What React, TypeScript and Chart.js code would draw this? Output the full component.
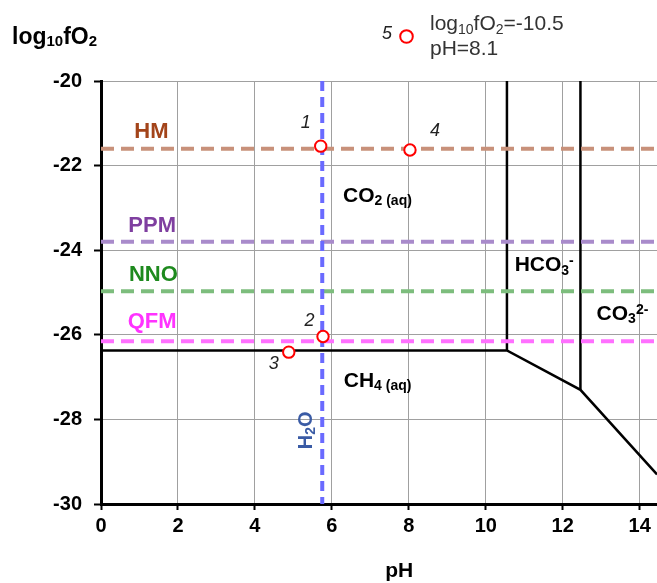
import React, { useEffect, useRef } from 'react';
import { Chart, registerables } from 'chart.js';

Chart.register(...registerables);

// ---- data ----
const phRange = [0, 14.45];
const bufferNames = ['HM', 'PPM', 'NNO', 'QFM'];
const bufferLogfO2 = [-21.6, -23.8, -24.97, -26.15];

const waterPH = [5.75, 5.75];
const waterLogfO2 = [-20, -30];

const ch4BoundaryPH = [0, 10.55, 12.46, 14.45];
const ch4BoundaryLogfO2 = [-26.37, -26.37, -27.3, -29.3];
const hco3BoundaryPH = [10.55, 10.55];
const hco3BoundaryLogfO2 = [-20, -26.37];
const co3BoundaryPH = [12.46, 12.46];
const co3BoundaryLogfO2 = [-20, -27.3];

const sampleIds = ['1', '2', '3', '4'];
const samplePH = [5.71, 5.77, 4.88, 8.03];
const sampleLogfO2 = [-21.54, -26.04, -26.41, -21.63];

const offChartId = '5';
const offChartLogfO2 = '-10.5';
const offChartPH = '8.1';

const xTickStep = 2;
const yRange = [-30, -20];
const yTickStep = 2;

// ---- styles ----
const FONT = '"Liberation Sans", Arial, sans-serif';
const bufferLineColors = ['#c8917a', '#a98bcb', '#7dbd7d', '#ff70ff'];
const bufferTextColors = ['#a3441a', '#7f3fa0', '#1e8a1e', '#ff33ff'];

type Part = [string, 'n' | 'sub' | 'sup'];

function drawRich(
  ctx: CanvasRenderingContext2D,
  parts: Part[],
  x: number,
  y: number,
  o: { size: number; subSize: number; weight?: string; style?: string; color: string; align: 'left' | 'center' | 'right'; subShift?: number; supShift?: number }
) {
  const fontFor = (k: string) => `${o.style || 'normal'} ${o.weight || 'normal'} ${k === 'n' ? o.size : o.subSize}px ${FONT}`;
  let total = 0;
  const widths = parts.map(([t, k]) => {
    ctx.font = fontFor(k);
    const w = ctx.measureText(t).width;
    total += w;
    return w;
  });
  let cx = o.align === 'left' ? x : o.align === 'center' ? x - total / 2 : x - total;
  ctx.fillStyle = o.color;
  ctx.textBaseline = 'alphabetic';
  ctx.textAlign = 'left';
  parts.forEach(([t, k], i) => {
    ctx.font = fontFor(k);
    const dy = k === 'sub' ? o.size * (o.subShift ?? 0.16) : k === 'sup' ? -o.size * (o.supShift ?? 0.28) : 0;
    ctx.fillText(t, cx, y + dy);
    cx += widths[i];
  });
}

const annotationPlugin = {
  id: 'annotations',
  afterDatasetsDraw(chart: any) {
    const ctx: CanvasRenderingContext2D = chart.ctx;
    const xs = chart.scales.x;
    const ys = chart.scales.y;
    const px = (v: number) => xs.getPixelForValue(v);
    const py = (v: number) => ys.getPixelForValue(v);
    const area = chart.chartArea;
    ctx.save();

    // x tick labels from the scale's own ticks
    xs.ticks.forEach((t: any) => {
      drawRich(ctx, [[String(t.value), 'n']], px(t.value), area.bottom + 28, {
        size: 20, subSize: 12, weight: 'bold', color: '#000', align: 'center',
      });
    });

    const bufferLabelPos = [
      [1.31, -21.34],
      [1.33, -23.57],
      [1.36, -24.73],
      [1.33, -25.85],
    ];
    bufferNames.forEach((n, i) => {
      drawRich(ctx, [[n, 'n']], px(bufferLabelPos[i][0]), py(bufferLabelPos[i][1]), {
        size: 22, subSize: 14, weight: 'bold', color: bufferTextColors[i], align: 'center',
      });
    });

    const bold = { size: 21, subSize: 14, weight: 'bold', color: '#000', align: 'left' as const };
    drawRich(ctx, [['CO', 'n'], ['2', 'sub'], [' (aq)', 'sub']], px(6.29), py(-22.86), bold);
    drawRich(ctx, [['CH', 'n'], ['4', 'sub'], [' (aq)', 'sub']], px(6.31), py(-27.23), bold);
    drawRich(ctx, [['HCO', 'n'], ['3', 'sub'], ['-', 'sup']], px(10.75), py(-24.5), bold);
    drawRich(ctx, [['CO', 'n'], ['3', 'sub'], ['2-', 'sup']], px(12.88), py(-25.65), bold);

    ctx.save();
    ctx.translate(px(5.3), py(-28.26));
    ctx.rotate(-Math.PI / 2);
    drawRich(ctx, [['H', 'n'], ['2', 'sub'], ['O', 'n']], 0, 7, {
      size: 20, subSize: 14, weight: 'bold', color: '#3a5ba5', align: 'center',
    });
    ctx.restore();

    const idPos = [
      [5.32, -21.12],
      [5.42, -25.8],
      [4.49, -26.8],
      [8.68, -21.3],
    ];
    sampleIds.forEach((id, i) => {
      drawRich(ctx, [[id, 'n']], px(idPos[i][0]), py(idPos[i][1]), {
        size: 18, subSize: 12, style: 'italic', color: '#222', align: 'center',
      });
    });

    const lx = area.left;
    const ty = area.top;
    drawRich(ctx, [[offChartId, 'n']], lx + 286, ty - 42, {
      size: 18, subSize: 12, style: 'italic', color: '#222', align: 'center',
    });
    ctx.beginPath();
    ctx.arc(lx + 305.5, ty - 44.5, 6.3, 0, Math.PI * 2);
    ctx.fillStyle = '#fff';
    ctx.fill();
    ctx.lineWidth = 2;
    ctx.strokeStyle = '#ff0000';
    ctx.stroke();
    const legendStyle = { size: 21, subSize: 14, color: '#333', align: 'left' as const, subShift: 0.18 };
    drawRich(ctx, [['log', 'n'], ['10', 'sub'], ['fO', 'n'], ['2', 'sub'], ['=' + offChartLogfO2, 'n']], lx + 329, ty - 51, legendStyle);
    drawRich(ctx, [['pH=' + offChartPH, 'n']], lx + 329, ty - 26, legendStyle);

    drawRich(ctx, [['log', 'n'], ['10', 'sub'], ['fO', 'n'], ['2', 'sub']], 12, 44, {
      size: 23, subSize: 15, weight: 'bold', color: '#000', align: 'left', subShift: 0.07,
    });
    drawRich(ctx, [['pH', 'n']], px(7.75), 577, {
      size: 21, subSize: 14, weight: 'bold', color: '#000', align: 'center',
    });

    ctx.restore();
  },
};

function pts(xsv: number[], ysv: number[]) {
  return xsv.map((x, i) => ({ x, y: ysv[i] }));
}

export default function App() {
  const ref = useRef<HTMLCanvasElement | null>(null);

  useEffect(() => {
    if (!ref.current) return;
    document.body.style.margin = '0';
    document.body.style.overflow = 'hidden';
    const datasets: any[] = [];

    datasets.push({
      label: 'samples',
      data: pts(samplePH, sampleLogfO2),
      showLine: false,
      pointRadius: 5.7,
      pointBorderWidth: 2,
      pointBorderColor: '#ff0000',
      pointBackgroundColor: '#ffffff',
    });
    datasets.push({
      label: 'H2O',
      data: pts(waterPH, waterLogfO2),
      showLine: true,
      borderColor: '#6a6aff',
      borderWidth: 4,
      borderDash: [10, 6],
      pointRadius: 0,
    });
    bufferNames.forEach((n, i) => {
      datasets.push({
        label: n,
        data: pts(phRange, [bufferLogfO2[i], bufferLogfO2[i]]),
        showLine: true,
        borderColor: bufferLineColors[i],
        borderWidth: 4,
        borderDash: [13, 7],
        pointRadius: 0,
      });
    });
    [
      pts(ch4BoundaryPH, ch4BoundaryLogfO2),
      pts(hco3BoundaryPH, hco3BoundaryLogfO2),
      pts(co3BoundaryPH, co3BoundaryLogfO2),
    ].forEach((d, i) => {
      datasets.push({
        label: 'boundary' + i,
        data: d,
        showLine: true,
        borderColor: '#000',
        borderWidth: 2.5,
        pointRadius: 0,
        tension: 0,
      });
    });

    const chart = new Chart(ref.current, {
      type: 'scatter',
      data: { datasets },
      options: {
        responsive: false,
        animation: false,
        devicePixelRatio: 1,
        layout: { autoPadding: false, padding: { top: 81, left: 0, right: 0, bottom: 0 } },
        plugins: { legend: { display: false }, tooltip: { enabled: false } },
        scales: {
          x: {
            type: 'linear',
            min: phRange[0],
            max: phRange[1],
            afterFit: (s: any) => { s.height = 79; s.paddingLeft = 0; s.paddingRight = 0; },
            border: { color: '#000', width: 3 },
            grid: { color: '#a0a0a0', lineWidth: 1, tickColor: '#000', tickLength: 6, tickWidth: 2 },
            ticks: {
              display: false,
              stepSize: xTickStep,
              includeBounds: false,
              maxRotation: 0,
            },
          },
          y: {
            type: 'linear',
            min: yRange[0],
            max: yRange[1],
            afterFit: (s: any) => { s.width = 101; s.paddingTop = 0; s.paddingBottom = 0; },
            border: { color: '#000', width: 3 },
            grid: { color: '#a0a0a0', lineWidth: 1, tickColor: '#000', tickLength: 7, tickWidth: 2 },
            ticks: {
              stepSize: yTickStep,
              padding: 12,
              color: '#000',
              font: { family: FONT, size: 20, weight: 'bold' },
            },
          },
        },
      } as any,
      plugins: [annotationPlugin],
    });
    return () => chart.destroy();
  }, []);

  return (
    <div style={{ position: 'absolute', left: 0, top: 0, width: 657, height: 583, overflow: 'hidden', background: '#fff' }}>
      <canvas ref={ref} width={657} height={583} style={{ display: 'block', width: 657, height: 583 }} />
    </div>
  );
}
